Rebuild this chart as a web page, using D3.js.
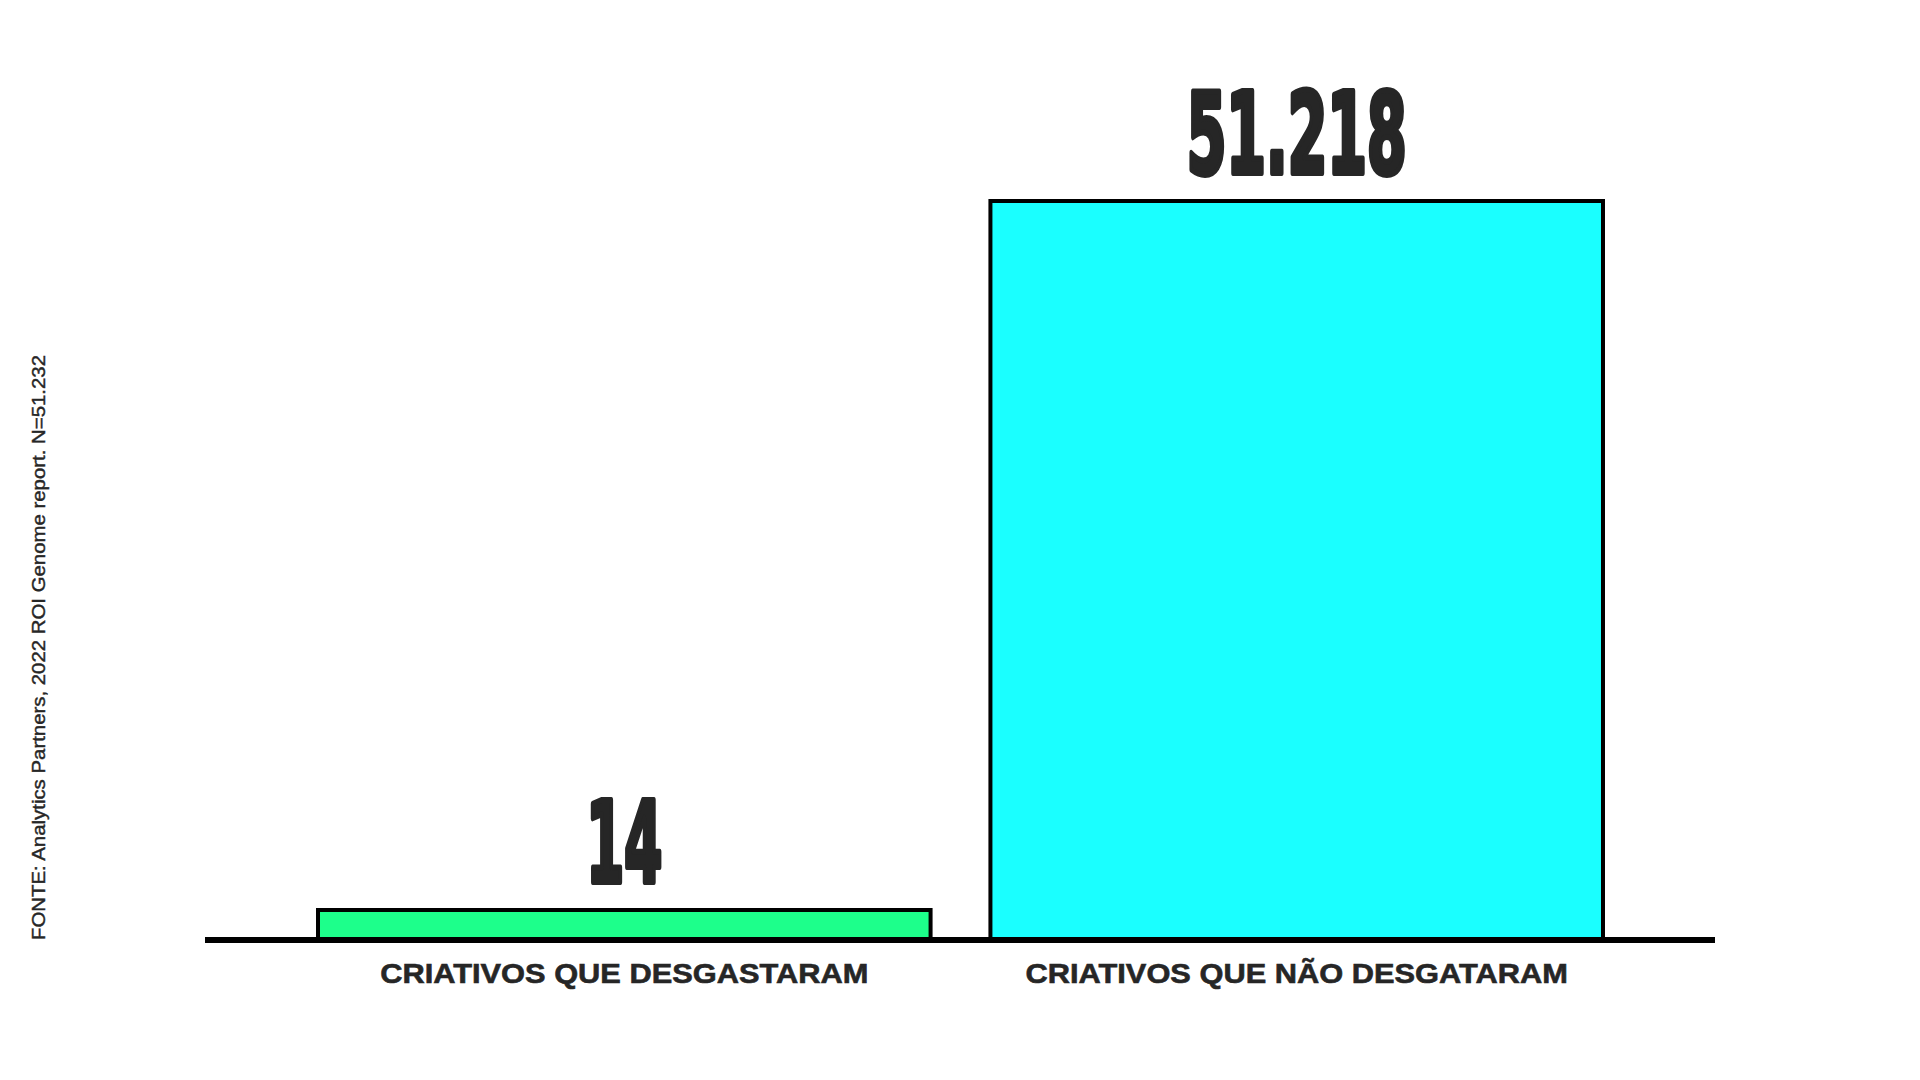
<!DOCTYPE html>
<html>
<head>
<meta charset="utf-8">
<script src="https://cdn.jsdelivr.net/npm/d3@7"></script>
<style>
  html, body { margin: 0; padding: 0; background: #fff; }
  svg { display: block; }
</style>
</head>
<body>
<div id="chart"></div>
<script>
var width = 1920,
    height = 1080,
    baseY = 940,
    minBar = 30; // the tiny bar keeps a visible height

var categories = ["CRIATIVOS QUE DESGASTARAM", "CRIATIVOS QUE NÃO DESGATARAM"],
    values = [14, 51218],
    colors = ["#1dff8b", "#1affff"],
    source = "FONTE: Analytics Partners, 2022 ROI Genome report. N=51.232";

var ptBR = d3.formatLocale({decimal: ",", thousands: ".", grouping: [3], currency: ["R$", ""]}),
    fmt = ptBR.format(",d");

var x = d3.scaleBand()
    .domain(categories)
    .range([318, 1603])
    .paddingInner(0.089)
    .paddingOuter(0);

var y = d3.scaleLinear()
    .domain([0, d3.max(values)])
    .range([baseY, 201]);

function barTop(v) { return Math.min(y(v), baseY - minBar); }

var svg = d3.select("#chart").append("svg")
    .attr("width", width)
    .attr("height", height);

// bars
svg.selectAll("rect.bar")
  .data(values)
  .enter().append("rect")
    .attr("class", "bar")
    .attr("x", function(d, i) { return x(categories[i]); })
    .attr("y", function(d) { return barTop(d); })
    .attr("width", x.bandwidth())
    .attr("height", function(d) { return baseY - barTop(d); })
    .style("fill", function(d, i) { return colors[i]; })
    .style("stroke", "#000")
    .style("stroke-width", 4);

// baseline
svg.append("line")
    .attr("x1", 205).attr("x2", 1715)
    .attr("y1", baseY).attr("y2", baseY)
    .style("stroke", "#000")
    .style("stroke-width", 6);

// value labels (heavy condensed)
svg.selectAll("text.value")
  .data(values)
  .enter().append("text")
    .attr("class", "value")
    .attr("x", function(d, i) { return x(categories[i]) + x.bandwidth() / 2; })
    .attr("y", function(d) { return barTop(d) - 28; })
    .attr("text-anchor", "middle")
    .style("font-family", "'Liberation Sans Narrow', 'DejaVu Sans Condensed', sans-serif")
    .style("font-weight", "bold")
    .style("font-size", "112px")
    .style("fill", "#262626")
    .style("stroke", "#262626")
    .style("stroke-width", 6)
    .style("stroke-linejoin", "round")
    .text(function(d) { return fmt(d); })
    .each(function(d) {
      var s = fmt(d), n = s.replace(/\D/g, "").length, p = s.length - n;
      d3.select(this)
        .attr("textLength", n * 38 + p * 30)
        .attr("lengthAdjust", "spacingAndGlyphs");
    });

// category labels
svg.selectAll("text.cat")
  .data(categories)
  .enter().append("text")
    .attr("class", "cat")
    .attr("x", function(d) { return x(d) + x.bandwidth() / 2; })
    .attr("y", 983)
    .attr("text-anchor", "middle")
    .style("font-family", "'Liberation Sans', Arial, sans-serif")
    .style("font-weight", "bold")
    .style("font-size", "28px")
    .style("fill", "#262626")
    .style("stroke", "#262626")
    .style("stroke-width", 0.6)
    .text(function(d) { return d; })
    .each(function() {
      var len = this.getComputedTextLength();
      d3.select(this)
        .attr("textLength", len * 1.1)
        .attr("lengthAdjust", "spacingAndGlyphs");
    });

// source note, vertical
svg.append("text")
    .attr("transform", "translate(45," + baseY + ") rotate(-90)")
    .style("font-family", "'Liberation Sans', Arial, sans-serif")
    .style("font-size", "17.5px")
    .style("fill", "#262626")
    .style("stroke", "#262626")
    .style("stroke-width", 0.4)
    .text(source)
    .each(function() {
      d3.select(this)
        .attr("textLength", 585)
        .attr("lengthAdjust", "spacingAndGlyphs");
    });
</script>
</body>
</html>
